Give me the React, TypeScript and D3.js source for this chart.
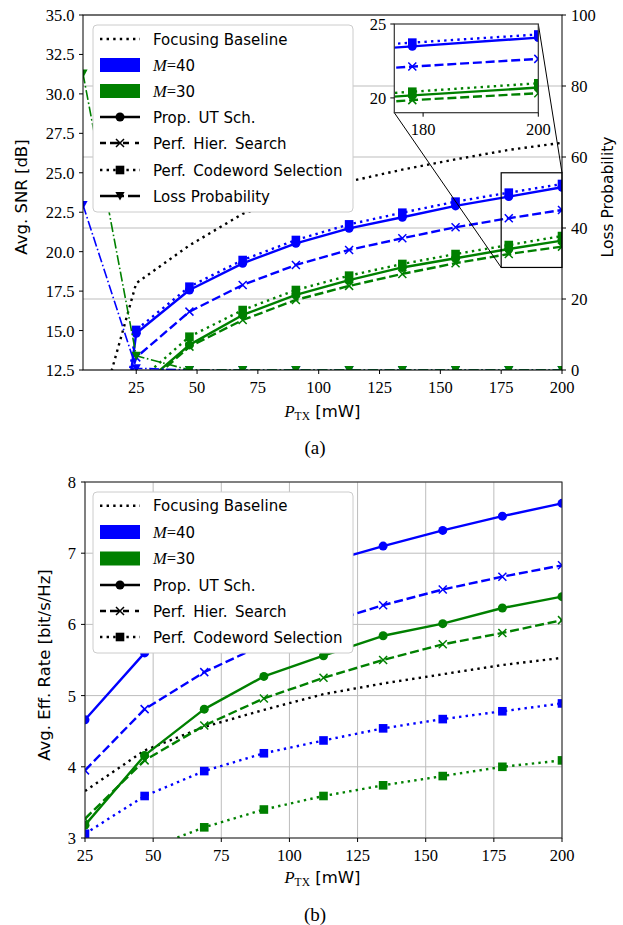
import React from "react";
import * as d3 from "d3";

const BLUE = "#0000ff";
const GREEN = "#008000";
const BLACK = "#000000";
const SERIF = "'Liberation Serif', 'DejaVu Serif', serif";
const SANS = "'DejaVu Sans', 'Liberation Sans', sans-serif";

// ---------------- Panel (a): Avg. SNR [dB] and loss probability ----------------
const powerA = [3.125, 25, 46.875, 68.75, 90.625, 112.5, 134.375, 156.25, 178.125, 200];
const snrBaseline = [6.0, 18.0, 20.4, 22.4, 23.5, 24.45, 25.2, 25.85, 26.45, 26.9];
const snrPropM40 = [-10.5, 14.83, 17.57, 19.26, 20.53, 21.48, 22.18, 22.9, 23.49, 24.08];
const snrHierM40 = [2.0, 13.3, 16.2, 17.89, 19.16, 20.11, 20.85, 21.55, 22.12, 22.64];
const snrCodeM40 = [-6.4, 15.04, 17.78, 19.47, 20.74, 21.73, 22.47, 23.17, 23.74, 24.29];
const snrPropM30 = [2.0, 11.2, 14.09, 15.99, 17.26, 18.2, 19.0, 19.58, 20.17, 20.7];
const snrHierM30 = [2.0, 11.0, 13.98, 15.67, 16.94, 17.83, 18.59, 19.27, 19.85, 20.32];
const snrCodeM30 = [2.5, 11.66, 14.61, 16.3, 17.57, 18.48, 19.22, 19.85, 20.42, 20.99];
const lossM40 = [46.5, 0.5, 0, 0, 0, 0, 0, 0, 0, 0];
const lossM30 = [83.5, 4, 0, 0, 0, 0, 0, 0, 0, 0];

const snrTicks = [12.5, 15, 17.5, 20, 22.5, 25, 27.5, 30, 32.5, 35];
const lossTicks = [0, 20, 40, 60, 80, 100];
const powerTicks = [25, 50, 75, 100, 125, 150, 175, 200];
const insetPowerTicks = [180, 200];
const insetSnrTicks = [20, 25];

// ---------------- Panel (b): Avg. Eff. Rate [bit/s/Hz] ----------------
const powerB = [25, 46.875, 68.75, 90.625, 112.5, 134.375, 156.25, 178.125, 200];
const rateBaseline = [3.66, 4.23, 4.56, 4.8, 5.02, 5.17, 5.3, 5.43, 5.53];
const ratePropM40 = [4.66, 5.6, 6.15, 6.55, 6.86, 7.1, 7.32, 7.52, 7.7];
const rateHierM40 = [3.95, 4.81, 5.33, 5.72, 6.01, 6.27, 6.49, 6.67, 6.83];
const rateCodeM40 = [3.06, 3.59, 3.94, 4.19, 4.37, 4.54, 4.67, 4.78, 4.89];
const ratePropM30 = [3.18, 4.16, 4.81, 5.27, 5.56, 5.84, 6.01, 6.23, 6.39];
const rateHierM30 = [3.27, 4.09, 4.58, 4.96, 5.25, 5.5, 5.72, 5.88, 6.06];
const rateCodeM30 = [2.3, 2.83, 3.15, 3.4, 3.59, 3.74, 3.87, 4.0, 4.09];
const rateTicks = [3, 4, 5, 6, 7, 8];

const legendLabels = [
  "Focusing Baseline",
  "M=40",
  "M=30",
  "Prop.\u2002UT Sch.",
  "Perf.\u2002Hier.\u2002Search",
  "Perf.\u2002Codeword Selection",
  "Loss Probability",
];

// ---------------- styles ----------------
const DASH: Record<string, string> = {
  solid: "",
  dashed: "9 3.8",
  dotted: "2.4 4.2",
  dashdot: "10 2.6 1.6 2.6",
};
const LW = 2.4;

type Scale = d3.ScaleLinear<number, number>;

function Marker({ type, x, y, color }: { type: string; x: number; y: number; color: string }) {
  if (type === "circle") return <circle cx={x} cy={y} r={4.5} fill={color} />;
  if (type === "square") return <rect x={x - 4.3} y={y - 4.3} width={8.6} height={8.6} fill={color} />;
  if (type === "x") {
    const s = 4;
    return (
      <path
        d={`M${x - s},${y - s}L${x + s},${y + s}M${x - s},${y + s}L${x + s},${y - s}`}
        stroke={color}
        strokeWidth={1.5}
        fill="none"
      />
    );
  }
  if (type === "tri")
    return <path d={`M${x - 4.6},${y - 4}L${x + 4.6},${y - 4}L${x},${y + 4.6}Z`} fill={color} />;
  return null;
}

function Series({
  xs, ys, sx, sy, color, dash, width, marker,
}: {
  xs: number[]; ys: number[]; sx: Scale; sy: Scale; color: string; dash: string; width: number; marker: string;
}) {
  const d = d3
    .line<number>()
    .x((_, i) => sx(xs[i]))
    .y((v) => sy(v))(ys) as string;
  return (
    <g>
      <path
        d={d}
        fill="none"
        stroke={color}
        strokeWidth={width}
        strokeDasharray={DASH[dash] || undefined}
        strokeLinejoin="round"
      />
      {marker !== "none" &&
        ys.map((v, i) => <Marker key={i} type={marker} x={sx(xs[i])} y={sy(v)} color={color} />)}
    </g>
  );
}

const snrSeries = [
  { ys: snrBaseline, color: BLACK, dash: "dotted", marker: "none" },
  { ys: snrPropM40, color: BLUE, dash: "solid", marker: "circle" },
  { ys: snrHierM40, color: BLUE, dash: "dashed", marker: "x" },
  { ys: snrCodeM40, color: BLUE, dash: "dotted", marker: "square" },
  { ys: snrPropM30, color: GREEN, dash: "solid", marker: "circle" },
  { ys: snrHierM30, color: GREEN, dash: "dashed", marker: "x" },
  { ys: snrCodeM30, color: GREEN, dash: "dotted", marker: "square" },
];
const lossSeries = [
  { ys: lossM40, color: BLUE, dash: "dashdot", marker: "tri" },
  { ys: lossM30, color: GREEN, dash: "dashdot", marker: "tri" },
];
const rateSeries = [
  { ys: rateBaseline, color: BLACK, dash: "dotted", marker: "none" },
  { ys: ratePropM40, color: BLUE, dash: "solid", marker: "circle" },
  { ys: rateHierM40, color: BLUE, dash: "dashed", marker: "x" },
  { ys: rateCodeM40, color: BLUE, dash: "dotted", marker: "square" },
  { ys: ratePropM30, color: GREEN, dash: "solid", marker: "circle" },
  { ys: rateHierM30, color: GREEN, dash: "dashed", marker: "x" },
  { ys: rateCodeM30, color: GREEN, dash: "dotted", marker: "square" },
];

const legendHandles = [
  { kind: "line", dash: "dotted", marker: "none" },
  { kind: "patch", color: BLUE },
  { kind: "patch", color: GREEN },
  { kind: "line", dash: "solid", marker: "circle" },
  { kind: "line", dash: "dashed", marker: "x" },
  { kind: "line", dash: "dotted", marker: "square" },
  { kind: "line", dash: "dashdot", marker: "tri" },
];

function LegendLabel({ text, x, y }: { text: string; x: number; y: number }) {
  if (text.startsWith("M=")) {
    return (
      <text x={x} y={y} fontSize={15} fontFamily={SANS}>
        <tspan fontFamily={SERIF} fontStyle="italic" fontSize={16.5}>M</tspan>
        <tspan fontFamily={SERIF} fontSize={16.5}>=</tspan>
        <tspan>{text.slice(2)}</tspan>
      </text>
    );
  }
  return (
    <text x={x} y={y} fontSize={15} fontFamily={SANS}>
      {text}
    </text>
  );
}

function Legend({ x, y, w, h, rows, count }: { x: number; y: number; w: number; h: number; rows: number[]; count: number }) {
  return (
    <g>
      <rect x={x} y={y} width={w} height={h} rx={4} ry={4} fill="#ffffff" stroke="#cccccc" strokeWidth={1} />
      {legendHandles.slice(0, count).map((hd, i) => {
        const cy = rows[i];
        const hx0 = x + 7;
        const hx1 = x + 47;
        const mid = (hx0 + hx1) / 2;
        return (
          <g key={i}>
            {hd.kind === "patch" ? (
              <rect x={hx0} y={cy - 7} width={hx1 - hx0} height={14} fill={hd.color} />
            ) : (
              <g>
                <line
                  x1={hx0}
                  x2={hx1}
                  y1={cy}
                  y2={cy}
                  stroke={BLACK}
                  strokeWidth={LW}
                  strokeDasharray={
                    hd.dash === "dashed" ? "6 4 9 4 6" : hd.dash === "dashdot" ? "24 4 12" : DASH[hd.dash as string] || undefined
                  }
                />
                <Marker type={hd.marker as string} x={mid} y={cy} color={BLACK} />
              </g>
            )}
            <LegendLabel text={legendLabels[i]} x={x + 60} y={cy + 5.5} />
          </g>
        );
      })}
    </g>
  );
}

function XLabel({ cx, y }: { cx: number; y: number }) {
  return (
    <text x={cx} y={y} textAnchor="middle" fontSize={16.5} fontFamily={SANS}>
      <tspan fontFamily={SERIF} fontStyle="italic">P</tspan>
      <tspan fontFamily={SERIF} fontSize={11.5} dy={3}>TX</tspan>
      <tspan dy={-3}>{"\u00a0[mW]"}</tspan>
    </text>
  );
}

function PanelA() {
  const x0 = 83, x1 = 562, y0 = 15, y1 = 370;
  const sx = d3.scaleLinear().domain([3.125, 200]).range([x0, x1]);
  const sy = d3.scaleLinear().domain([12.5, 35]).range([y1, y0]);
  const sl = d3.scaleLinear().domain([0, 100]).range([y1, y0]);
  // inset
  const ix0 = 394.3, ix1 = 538.3, iy0 = 24, iy1 = 112.7;
  const ix = d3.scaleLinear().domain([175, 200]).range([ix0, ix1]);
  const iy = d3.scaleLinear().domain([19, 25]).range([iy1, iy0]);

  return (
    <g>
      <defs>
        <clipPath id="clipA">
          <rect x={x0} y={y0} width={x1 - x0} height={y1 - y0} />
        </clipPath>
        <clipPath id="clipI">
          <rect x={ix0} y={iy0} width={ix1 - ix0} height={iy1 - iy0} />
        </clipPath>
      </defs>
      {/* grid from right axis */}
      {lossTicks.map((t) => (
        <line key={t} x1={x0} x2={x1} y1={sl(t)} y2={sl(t)} stroke="#bdbdbd" strokeWidth={1} />
      ))}
      <g clipPath="url(#clipA)">
        {snrSeries.map((s, i) => (
          <Series key={i} xs={powerA} ys={s.ys} sx={sx} sy={sy} color={s.color} dash={s.dash} width={LW} marker={s.marker} />
        ))}
        {lossSeries.map((s, i) => (
          <Series key={i} xs={powerA} ys={s.ys} sx={sx} sy={sl} color={s.color} dash={s.dash} width={1.6} marker={s.marker} />
        ))}
      </g>
      {/* frame */}
      <rect x={x0} y={y0} width={x1 - x0} height={y1 - y0} fill="none" stroke={BLACK} strokeWidth={1} />
      {/* left ticks */}
      {snrTicks.map((t) => (
        <g key={t}>
          <line x1={x0 - 4} x2={x0} y1={sy(t)} y2={sy(t)} stroke={BLACK} />
          <text x={x0 - 8.5} y={sy(t) + 6} textAnchor="end" fontSize={16.5} fontFamily={SERIF}>
            {t.toFixed(1)}
          </text>
        </g>
      ))}
      {/* right ticks */}
      {lossTicks.map((t) => (
        <g key={t}>
          <line x1={x1} x2={x1 + 4} y1={sl(t)} y2={sl(t)} stroke={BLACK} />
          <text x={x1 + 9} y={sl(t) + 6} textAnchor="start" fontSize={16.5} fontFamily={SERIF}>
            {t}
          </text>
        </g>
      ))}
      {/* bottom ticks */}
      {powerTicks.map((t) => (
        <g key={t}>
          <line x1={sx(t)} x2={sx(t)} y1={y1} y2={y1 + 4} stroke={BLACK} />
          <text x={sx(t)} y={y1 + 23} textAnchor="middle" fontSize={16.5} fontFamily={SERIF}>
            {t}
          </text>
        </g>
      ))}
      <text transform={`translate(27,197) rotate(-90)`} textAnchor="middle" fontSize={16.5} fontFamily={SANS}>
        Avg. SNR [dB]
      </text>
      <text transform={`translate(613,197) rotate(-90)`} textAnchor="middle" fontSize={15.5} fontFamily={SANS}>
        Loss Probability
      </text>
      <XLabel cx={322.5} y={417} />

      {/* zoom indicator */}
      <rect x={sx(175)} y={sy(25)} width={sx(200) - sx(175)} height={sy(19) - sy(25)} fill="none" stroke={BLACK} strokeWidth={1.2} />
      <line x1={ix(175)} y1={iy(19)} x2={sx(175)} y2={sy(19)} stroke={BLACK} strokeWidth={1} />
      <line x1={ix(200)} y1={iy(25)} x2={sx(200)} y2={sy(25)} stroke={BLACK} strokeWidth={1} />

      {/* inset */}
      <rect x={ix0} y={iy0} width={ix1 - ix0} height={iy1 - iy0} fill="#ffffff" />
      <g clipPath="url(#clipI)">
        {snrSeries.map((s, i) => (
          <Series key={i} xs={powerA} ys={s.ys} sx={ix} sy={iy} color={s.color} dash={s.dash} width={LW} marker={s.marker} />
        ))}
      </g>
      <rect x={ix0} y={iy0} width={ix1 - ix0} height={iy1 - iy0} fill="none" stroke="#333" strokeWidth={1.2} />
      {insetSnrTicks.map((t) => (
        <g key={t}>
          <line x1={ix0 - 4} x2={ix0} y1={iy(t)} y2={iy(t)} stroke={BLACK} />
          <text x={ix0 - 8} y={iy(t) + 6} textAnchor="end" fontSize={16.5} fontFamily={SERIF}>
            {t}
          </text>
        </g>
      ))}
      {insetPowerTicks.map((t) => (
        <g key={t}>
          <line x1={ix(t)} x2={ix(t)} y1={iy1} y2={iy1 + 4} stroke={BLACK} />
          <text x={ix(t)} y={iy1 + 22.5} textAnchor="middle" fontSize={16.5} fontFamily={SERIF}>
            {t}
          </text>
        </g>
      ))}

      <Legend x={93} y={25} w={260} h={187} rows={[39, 65, 91, 117, 143, 170, 196]} count={7} />

      <text x={315} y={453.5} textAnchor="middle" fontSize={19} fontFamily={SERIF}>
        (a)
      </text>
    </g>
  );
}

function PanelB() {
  const x0 = 85, x1 = 562, y0 = 482, y1 = 838;
  const sx = d3.scaleLinear().domain([25, 200]).range([x0, x1]);
  const sy = d3.scaleLinear().domain([3, 8]).range([y1, y0]);
  return (
    <g>
      <defs>
        <clipPath id="clipB">
          <rect x={x0} y={y0} width={x1 - x0} height={y1 - y0} />
        </clipPath>
      </defs>
      {powerTicks.map((t) => (
        <line key={"v" + t} x1={sx(t)} x2={sx(t)} y1={y0} y2={y1} stroke="#bdbdbd" strokeWidth={1} />
      ))}
      {rateTicks.map((t) => (
        <line key={"h" + t} x1={x0} x2={x1} y1={sy(t)} y2={sy(t)} stroke="#bdbdbd" strokeWidth={1} />
      ))}
      <g clipPath="url(#clipB)">
        {rateSeries.map((s, i) => (
          <Series key={i} xs={powerB} ys={s.ys} sx={sx} sy={sy} color={s.color} dash={s.dash} width={LW} marker={s.marker} />
        ))}
      </g>
      <rect x={x0} y={y0} width={x1 - x0} height={y1 - y0} fill="none" stroke="#222" strokeWidth={1} />
      {rateTicks.map((t) => (
        <g key={t}>
          <line x1={x0 - 4} x2={x0} y1={sy(t)} y2={sy(t)} stroke={BLACK} />
          <text x={x0 - 9} y={sy(t) + 6} textAnchor="end" fontSize={16.5} fontFamily={SERIF}>
            {t}
          </text>
        </g>
      ))}
      {powerTicks.map((t) => (
        <g key={t}>
          <line x1={sx(t)} x2={sx(t)} y1={y1} y2={y1 + 4} stroke={BLACK} />
          <text x={sx(t)} y={y1 + 23} textAnchor="middle" fontSize={16.5} fontFamily={SERIF}>
            {t}
          </text>
        </g>
      ))}
      <text transform={`translate(50,665) rotate(-90)`} textAnchor="middle" fontSize={16.5} fontFamily={SANS}>
        Avg. Eff. Rate [bit/s/Hz]
      </text>
      <XLabel cx={322.5} y={883} />
      <Legend x={93} y={492} w={260} h={161} rows={[505.7, 532, 558.5, 585, 611, 637]} count={6} />
      <text x={315} y={920.5} textAnchor="middle" fontSize={19} fontFamily={SERIF}>
        (b)
      </text>
    </g>
  );
}

export default function App() {
  return (
    <svg
      width={623}
      height={925}
      viewBox="0 0 623 925"
      style={{ position: "absolute", left: 0, top: 0, background: "#ffffff" }}
    >
      <rect x={0} y={0} width={623} height={925} fill="#ffffff" />
      <PanelA />
      <PanelB />
    </svg>
  );
}
